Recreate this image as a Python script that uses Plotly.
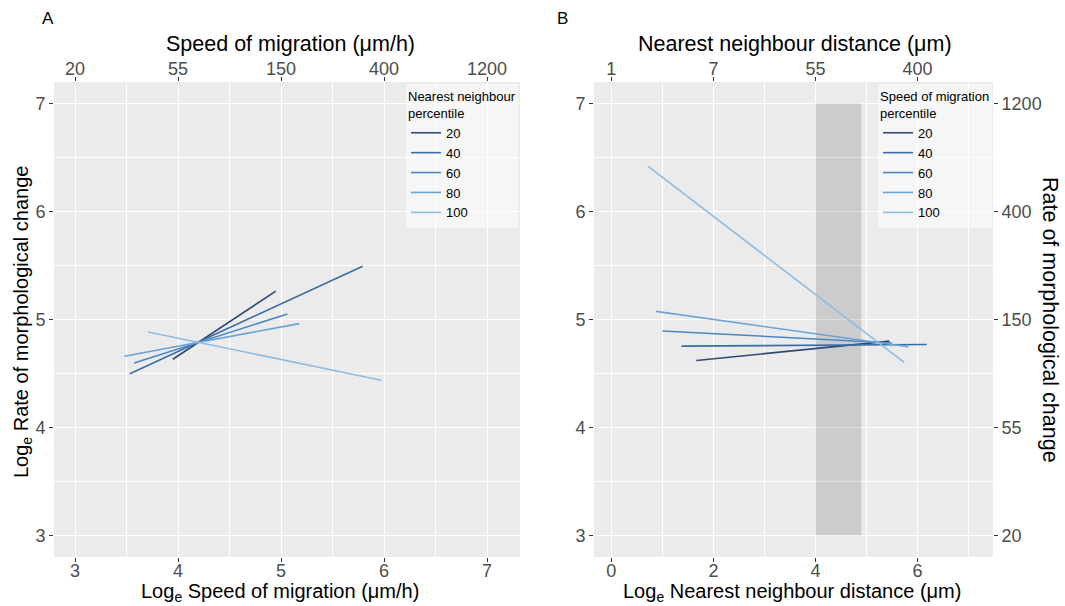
import plotly.graph_objects as go

# ---------------- data ----------------
percentiles = ["20", "40", "60", "80", "100"]
colors = ["#2e4a75", "#3b6da5", "#4c86c2", "#6aa3d5", "#8dbde2"]

# Panel A: log speed of migration vs log rate of morphological change
a_x0 = [3.949, 3.532, 3.574, 3.478, 3.708]
a_x1 = [4.949, 5.792, 5.061, 5.176, 5.974]
a_y0 = [4.632, 4.497, 4.598, 4.660, 4.885]
a_y1 = [5.263, 5.494, 5.051, 4.962, 4.438]

# Panel B: log nearest neighbour distance vs log rate of morphological change
b_x0 = [1.666, 1.375, 1.000, 0.875, 0.715]
b_x1 = [5.450, 6.180, 5.500, 5.820, 5.740]
b_y0 = [4.620, 4.753, 4.893, 5.075, 6.420]
b_y1 = [4.800, 4.768, 4.783, 4.747, 4.602]

# shaded band in panel B
band_x = [4.0, 4.9]
band_y = [3.0, 7.0]

a_ticks = [3, 4, 5, 6, 7]
a_top_labels = ["20", "55", "150", "400", "1200"]
b_ticks = [0, 2, 4, 6]
b_top_labels = ["1", "7", "55", "400"]
y_ticks = [3, 4, 5, 6, 7]
y_right_labels = ["20", "55", "150", "400", "1200"]

# ---------------- figure ----------------
W, H = 1065, 606
fig = go.Figure()

for i, p in enumerate(percentiles):
    fig.add_trace(go.Scatter(x=[a_x0[i], a_x1[i]], y=[a_y0[i], a_y1[i]], mode="lines",
                             line=dict(color=colors[i], width=1.6), name=p,
                             legend="legend", xaxis="x", yaxis="y", hoverinfo="skip"))
for i, p in enumerate(percentiles):
    fig.add_trace(go.Scatter(x=[b_x0[i], b_x1[i]], y=[b_y0[i], b_y1[i]], mode="lines",
                             line=dict(color=colors[i], width=1.6), name=p,
                             legend="legend2", xaxis="x2", yaxis="y2", hoverinfo="skip"))

# invisible traces for the secondary axes
fig.add_trace(go.Scatter(x=[None], y=[None], xaxis="x3", yaxis="y", showlegend=False, hoverinfo="skip"))
fig.add_trace(go.Scatter(x=[None], y=[None], xaxis="x4", yaxis="y3", showlegend=False, hoverinfo="skip"))

def px_x(p):
    return p / W

def px_y(p):
    return 1 - p / H

a_dom = [px_x(54), px_x(520)]
b_dom = [px_x(594), px_x(993)]
y_dom = [px_y(557), px_y(82)]

a_range = [2.795, 7.32]
b_range = [-0.34, 7.48]
y_range = [2.8, 7.2]

tickfont = dict(family="Liberation Sans, Arial, sans-serif", size=18, color="#4D4D4D")
base = dict(showline=False, zeroline=False,
            ticks="outside", ticklen=4, tickcolor="#333333", tickwidth=1,
            tickfont=tickfont, fixedrange=True)
grid = dict(gridcolor="white", gridwidth=1.2)
xlab = dict(ticklabelstandoff=-7)
xlab_top = dict(ticklabelstandoff=-5)

minor_grid = dict(showgrid=True, gridcolor="white", gridwidth=0.5)

fig.update_layout(
    width=W, height=H,
    margin=dict(l=0, r=0, t=0, b=0),
    paper_bgcolor="white",
    plot_bgcolor="#EBEBEB",
    font=dict(family="Liberation Sans, Arial, sans-serif", color="black"),
    xaxis=dict(domain=a_dom, range=a_range, anchor="y", tickvals=a_ticks,
               minor=dict(tickvals=[3.5, 4.5, 5.5, 6.5], **minor_grid), **base, **grid, **xlab),
    yaxis=dict(domain=y_dom, range=y_range, anchor="x", tickvals=y_ticks,
               minor=dict(tickvals=[3.5, 4.5, 5.5, 6.5], **minor_grid), **base, **grid),
    xaxis3=dict(range=a_range, overlaying="x", side="top", anchor="y", tickvals=a_ticks,
                ticktext=a_top_labels, showgrid=False, **base, **xlab_top),
    xaxis2=dict(domain=b_dom, range=b_range, anchor="y2", tickvals=b_ticks,
                minor=dict(tickvals=[1, 3, 5, 7], **minor_grid), **base, **grid, **xlab),
    yaxis2=dict(domain=y_dom, range=y_range, anchor="x2", tickvals=y_ticks,
                minor=dict(tickvals=[3.5, 4.5, 5.5, 6.5], **minor_grid), **base, **grid),
    xaxis4=dict(range=b_range, overlaying="x2", side="top", anchor="y2", tickvals=b_ticks,
                ticktext=b_top_labels, showgrid=False, **base, **xlab_top),
    yaxis3=dict(range=y_range, overlaying="y2", side="right", anchor="x2", tickvals=y_ticks,
                ticktext=y_right_labels, showgrid=False, **base),
    legend=dict(title=dict(text="Nearest neighbour<br>percentile", font=dict(size=13)),
                x=px_x(518), xanchor="right", y=px_y(84), yanchor="top",
                bgcolor="rgba(255,255,255,0.55)", font=dict(size=13),
                tracegroupgap=0, itemwidth=30),
    legend2=dict(title=dict(text="Speed of migration<br>percentile", font=dict(size=13)),
                 x=px_x(992), xanchor="right", y=px_y(84), yanchor="top",
                 bgcolor="rgba(255,255,255,0.55)", font=dict(size=13),
                 tracegroupgap=0, itemwidth=30),
    showlegend=True,
)

fig.add_shape(type="rect", xref="x2", yref="y2", x0=band_x[0], x1=band_x[1],
              y0=band_y[0], y1=band_y[1], fillcolor="rgba(0,0,0,0.13)",
              line=dict(width=0), layer="between")

title_font = dict(family="Liberation Sans, Arial, sans-serif", size=20, color="black")
top_font = dict(family="Liberation Sans, Arial, sans-serif", size=21.5, color="black")
ann = [
    dict(text="A", x=px_x(48), y=px_y(18), font=dict(size=17)),
    dict(text="B", x=px_x(562), y=px_y(18), font=dict(size=17)),
    dict(text="Speed of migration (μm/h)", x=px_x(290), y=px_y(44), font=top_font),
    dict(text="Nearest neighbour distance (μm)", x=px_x(795), y=px_y(44), font=top_font),
    dict(text="Log<sub>e</sub> Speed of migration (μm/h)", x=px_x(280), y=px_y(592), font=title_font),
    dict(text="Log<sub>e</sub> Nearest neighbour distance (μm)", x=px_x(792), y=px_y(592), font=title_font),
    dict(text="Log<sub>e</sub> Rate of morphological change", x=px_x(22), y=px_y(322), font=title_font, textangle=-90),
    dict(text="Rate of morphological change", x=px_x(1050), y=px_y(320), font=top_font, textangle=90),
]
for a in ann:
    a.update(xref="paper", yref="paper", showarrow=False, xanchor="center", yanchor="middle")
    fig.add_annotation(**a)

fig.write_html("out.html")
